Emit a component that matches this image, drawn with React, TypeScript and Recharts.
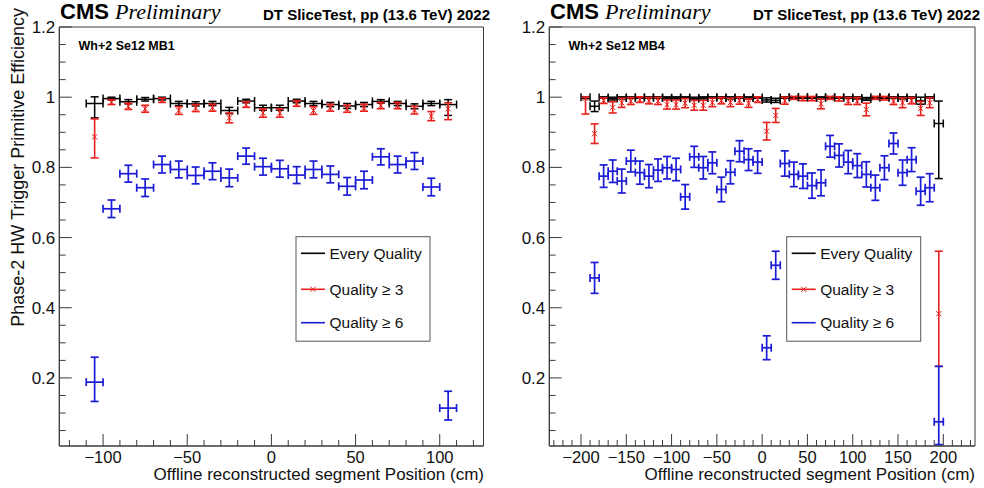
import React from 'react';
import { ScatterChart, Scatter, XAxis, YAxis, ErrorBar, ReferenceArea } from 'recharts';

// ---- data: efficiency per 10 cm bin ----

const BIN_HALF_WIDTH = 5;

// MB1 (left)
const MB1_BINS = [-105, -95, -85, -75, -65, -55, -45, -35, -25, -15, -5, 5, 15, 25, 35, 45, 55, 65, 75, 85, 95, 105];
const MB1_ALL = [0.982, 0.996, 0.987, 0.994, 0.996, 0.982, 0.981, 0.982, 0.962, 0.989, 0.97, 0.97, 0.989, 0.982, 0.979, 0.975, 0.979, 0.988, 0.982, 0.974, 0.982, 0.979];
const MB1_ALL_ERR: (number | [number, number])[] = [[0.041, 0.019], 0.004, 0.006, 0.005, 0.004, 0.006, 0.006, 0.006, 0.009, 0.005, 0.007, 0.007, 0.005, 0.006, 0.006, 0.007, 0.006, 0.005, 0.006, 0.007, 0.006, [0.031, 0.014]];
const MB1_Q3 = [0.887, 0.986, 0.974, 0.967, 0.991, 0.962, 0.969, 0.97, 0.941, 0.979, 0.955, 0.955, 0.982, 0.962, 0.97, 0.967, 0.97, 0.976, 0.976, 0.963, 0.946, 0.967];
const MB1_Q3_ERR: (number | [number, number])[] = [[0.06, 0.051], 0.007, 0.009, 0.01, 0.006, 0.011, 0.01, 0.01, 0.014, 0.008, 0.012, 0.012, 0.008, 0.011, 0.01, 0.01, 0.01, 0.009, 0.009, 0.011, 0.013, [0.031, 0.017]];
const MB1_Q6 = [0.188, 0.682, 0.782, 0.742, 0.808, 0.794, 0.777, 0.789, 0.77, 0.832, 0.802, 0.796, 0.778, 0.794, 0.78, 0.746, 0.764, 0.83, 0.808, 0.818, 0.744, 0.114];
const MB1_Q6_ERR: (number | [number, number])[] = [[0.055, 0.071], 0.025, 0.024, 0.025, 0.024, 0.024, 0.024, 0.024, 0.025, 0.023, 0.024, 0.024, 0.024, 0.024, 0.024, 0.025, 0.025, 0.023, 0.024, 0.024, 0.025, [0.034, 0.048]];

// MB4 (right)
const MB4_BINS = [-195, -185, -175, -165, -155, -145, -135, -125, -115, -105, -95, -85, -75, -65, -55, -45, -35, -25, -15, -5, 5, 15, 25, 35, 45, 55, 65, 75, 85, 95, 105, 115, 125, 135, 145, 155, 165, 175, 185, 195];
const MB4_ALL = [1.0, 0.974, 0.999, 0.996, 0.998, 0.999, 0.999, 0.999, 0.999, 0.998, 0.998, 0.999, 0.996, 0.998, 0.999, 0.999, 0.998, 0.999, 0.998, 0.999, 0.992, 0.991, 0.999, 1.0, 1.0, 0.999, 0.998, 1.0, 0.999, 0.999, 0.998, 0.995, 1.0, 0.999, 0.999, 0.998, 0.999, 0.99, 0.999, 0.925];
const MB4_ALL_ERR: (number | [number, number])[] = [[0.004, 0], 0.015, 0.002, 0.004, 0.003, 0.002, 0.002, 0.002, 0.002, 0.003, 0.003, 0.002, 0.004, 0.003, 0.002, 0.002, 0.003, 0.002, 0.003, 0.002, 0.006, 0.006, 0.002, [0.003, 0], [0.003, 0], 0.002, 0.003, [0.003, 0], 0.002, 0.002, 0.003, 0.004, [0.003, 0], 0.002, 0.002, 0.003, 0.002, 0.01, 0.002, [0.157, 0.064]];
const MB4_Q3 = [0.997, 0.896, 0.99, 0.971, 0.984, 0.989, 0.993, 0.99, 0.989, 0.979, 0.979, 0.983, 0.977, 0.977, 0.985, 0.99, 0.985, 0.99, 0.983, 0.993, 0.903, 0.948, 0.99, 0.998, 0.996, 0.996, 0.981, 0.998, 0.995, 0.989, 0.989, 0.965, 0.998, 0.997, 0.989, 0.984, 0.99, 0.968, 0.984, 0.383];
const MB4_Q3_ERR: (number | [number, number])[] = [[0.045, 0.003], 0.028, 0.008, 0.016, 0.013, 0.01, 0.008, 0.009, 0.01, 0.013, 0.013, 0.013, 0.014, 0.014, 0.012, 0.009, 0.012, 0.01, 0.012, 0.008, 0.025, 0.02, 0.01, 0.004, 0.006, 0.006, 0.014, 0.004, 0.006, 0.01, 0.01, 0.018, 0.004, 0.005, 0.01, 0.014, 0.009, 0.02, 0.014, [0.15, 0.178]];
const MB4_Q6: (number | null)[] = [null, 0.485, 0.775, 0.789, 0.761, 0.818, 0.785, 0.775, 0.792, 0.799, 0.794, 0.716, 0.83, 0.799, 0.813, 0.737, 0.786, 0.846, 0.822, 0.815, 0.286, 0.521, 0.811, 0.78, 0.775, 0.748, 0.756, 0.86, 0.834, 0.815, 0.805, 0.78, 0.742, 0.799, 0.868, 0.785, 0.822, 0.732, 0.742, 0.075];
const MB4_Q6_ERR: (number | [number, number])[] = [0, 0.044, 0.032, 0.032, 0.034, 0.031, 0.033, 0.033, 0.032, 0.032, 0.032, 0.035, 0.03, 0.032, 0.031, 0.035, 0.033, 0.03, 0.031, 0.032, 0.034, 0.04, 0.036, 0.035, 0.035, 0.036, 0.037, 0.031, 0.033, 0.033, 0.034, 0.036, 0.036, 0.034, 0.03, 0.036, 0.034, 0.04, 0.04, [0.065, 0.158]];

// axes
const MB1_X_TICKS = [-120, -110, -100, -90, -80, -70, -60, -50, -40, -30, -20, -10, 0, 10, 20, 30, 40, 50, 60, 70, 80, 90, 100, 110, 120];
const MB4_X_TICKS = [-230, -220, -210, -200, -190, -180, -170, -160, -150, -140, -130, -120, -110, -100, -90, -80, -70, -60, -50, -40, -30, -20, -10, 0, 10, 20, 30, 40, 50, 60, 70, 80, 90, 100, 110, 120, 130, 140, 150, 160, 170, 180, 190, 200, 210, 220, 230];
const Y_TICKS = [0.05, 0.1, 0.15, 0.2, 0.25, 0.3, 0.35, 0.4, 0.45, 0.5, 0.55, 0.6, 0.65, 0.7, 0.75, 0.8, 0.85, 0.9, 0.95, 1, 1.05, 1.1, 1.15, 1.2];
const Y_DOMAIN: [number, number] = [0.006, 1.2];

const LEGEND_LABELS = ['Every Quality', 'Quality \u2265 3', 'Quality \u2265 6'];

const BLACK = '#000000';
const RED = '#e8201c';
const BLUE = '#1c1cd6';
const AXIS = '#3a3a3a';
const SANS = '"Liberation Sans", Arial, Helvetica, sans-serif';
const SERIF = '"Liberation Serif", "Times New Roman", serif';

type Err = number | [number, number];

function buildPoints(bins: number[], vals: (number | null)[], errs: Err[]) {
  const out: { x: number; y: number; ex: number; ey: Err }[] = [];
  bins.forEach((b, i) => {
    const v = vals[i];
    if (v == null) return;
    out.push({ x: b, y: v, ex: BIN_HALF_WIDTH, ey: errs[i] });
  });
  return out;
}

const NoMarker = () => <g />;

const CrossMarker = (props: any) => {
  const { cx, cy } = props;
  const s = 2.6;
  return (
    <g stroke={RED} strokeWidth={1}>
      <line x1={cx - s} y1={cy - s} x2={cx + s} y2={cy + s} />
      <line x1={cx - s} y1={cy + s} x2={cx + s} y2={cy - s} />
    </g>
  );
};

const fmtX = (v: number) => (v < 0 ? '\u2212' + Math.abs(v) : String(v));

const XTick = (props: any) => {
  const { x, y, payload } = props;
  const v = payload.value as number;
  const major = v % 50 === 0;
  return (
    <g>
      <line x1={x} x2={x} y1={y} y2={y - (major ? 12 : 6)} stroke={AXIS} strokeWidth={1} />
      {major && (
        <text x={x} y={y + 16.5} textAnchor="middle" fontSize={16.5} fontFamily={SANS} fill="#111">
          {fmtX(v)}
        </text>
      )}
    </g>
  );
};

const YTick = (props: any) => {
  const { x, y, payload } = props;
  const v = payload.value as number;
  const major = Math.abs(v * 5 - Math.round(v * 5)) < 1e-6;
  return (
    <g>
      <line x1={x} x2={x + (major ? 12.5 : 6.3)} y1={y} y2={y} stroke={AXIS} strokeWidth={1} />
      {major && (
        <text x={x - 4} y={y + 6} textAnchor="end" fontSize={17} fontFamily={SANS} fill="#111">
          {String(Math.round(v * 10) / 10)}
        </text>
      )}
    </g>
  );
};

interface PanelProps {
  left: number;
  marginRight: number;
  xDomain: [number, number];
  xTicks: number[];
  all: ReturnType<typeof buildPoints>;
  q3: ReturnType<typeof buildPoints>;
  q6: ReturnType<typeof buildPoints>;
}

function Panel({ left, marginRight, xDomain, xTicks, all, q3, q6 }: PanelProps) {
  return (
    <div style={{ position: 'absolute', left, top: 0 }}>
      <ScatterChart width={492} height={488} margin={{ top: 27, right: marginRight, bottom: 0, left: 0 }}>
        <XAxis
          type="number"
          dataKey="x"
          domain={xDomain}
          ticks={xTicks}
          interval={0}
          height={42}
          tickSize={0}
          tickMargin={0}
          tickLine={false}
          tick={XTick}
          axisLine={{ stroke: AXIS }}
          allowDataOverflow
        />
        <YAxis
          type="number"
          dataKey="y"
          domain={Y_DOMAIN}
          ticks={Y_TICKS}
          interval={0}
          width={59.3}
          tickSize={0}
          tickMargin={0}
          tickLine={false}
          tick={YTick}
          axisLine={{ stroke: AXIS }}
          allowDataOverflow
        />
        <ReferenceArea x1={xDomain[0]} x2={xDomain[1]} y1={Y_DOMAIN[0]} y2={Y_DOMAIN[1]} fill="none" stroke={AXIS} strokeWidth={1} />
        <Scatter data={all} shape={NoMarker} isAnimationActive={false}>
          <ErrorBar dataKey="ex" direction="x" width={4} stroke={BLACK} strokeWidth={1.5} isAnimationActive={false} />
          <ErrorBar dataKey="ey" direction="y" width={4} stroke={BLACK} strokeWidth={1.5} isAnimationActive={false} />
        </Scatter>
        <Scatter data={q3} shape={CrossMarker} isAnimationActive={false}>
          <ErrorBar dataKey="ey" direction="y" width={4} stroke={RED} strokeWidth={1.6} isAnimationActive={false} />
        </Scatter>
        <Scatter data={q6} shape={NoMarker} isAnimationActive={false}>
          <ErrorBar dataKey="ex" direction="x" width={4} stroke={BLUE} strokeWidth={1.7} isAnimationActive={false} />
          <ErrorBar dataKey="ey" direction="y" width={4} stroke={BLUE} strokeWidth={1.7} isAnimationActive={false} />
        </Scatter>
      </ScatterChart>
    </div>
  );
}

function Legend({ x, y }: { x: number; y: number }) {
  const rows = [16.6, 52.6, 86];
  const colors = [BLACK, RED, BLUE];
  return (
    <g>
      <rect x={x} y={y} width={134} height={104.5} fill="#fff" stroke="#555" strokeWidth={1} />
      {LEGEND_LABELS.map((lab, i) => (
        <g key={lab}>
          <line x1={x + 5} x2={x + 29} y1={y + rows[i]} y2={y + rows[i]} stroke={colors[i]} strokeWidth={1.6} />
          {i === 1 && <CrossMarker cx={x + 17} cy={y + rows[i]} />}
          <text x={x + 33.5} y={y + rows[i] + 5.5} fontSize={15.5} fontFamily={SANS} fill="#111">
            {lab}
          </text>
        </g>
      ))}
    </g>
  );
}

function Headers({ dx, frameRight, label }: { dx: number; frameRight: number; label: string }) {
  return (
    <g>
      <text x={dx + 60} y={19} fontSize={22} fontWeight="bold" fontFamily={SANS} fill="#000">CMS</text>
      <text x={dx + 115} y={19} fontSize={22} fontStyle="italic" fontFamily={SERIF} fill="#000">Preliminary</text>
      <text x={dx + 490} y={20} fontSize={15} fontWeight="bold" fontFamily={SANS} fill="#000" textAnchor="end">
        DT SliceTest, pp (13.6 TeV) 2022
      </text>
      <text x={dx + 78.5} y={50} fontSize={12.5} fontWeight="bold" fontFamily={SANS} fill="#000">{label}</text>
      <text x={frameRight} y={480} fontSize={17} fontFamily={SANS} fill="#111" textAnchor="end">
        Offline reconstructed segment Position (cm)
      </text>
    </g>
  );
}

export default function App() {
  const mb1All = buildPoints(MB1_BINS, MB1_ALL, MB1_ALL_ERR);
  const mb1Q3 = buildPoints(MB1_BINS, MB1_Q3, MB1_Q3_ERR);
  const mb1Q6 = buildPoints(MB1_BINS, MB1_Q6, MB1_Q6_ERR);
  const mb4All = buildPoints(MB4_BINS, MB4_ALL, MB4_ALL_ERR);
  const mb4Q3 = buildPoints(MB4_BINS, MB4_Q3, MB4_Q3_ERR);
  const mb4Q6 = buildPoints(MB4_BINS, MB4_Q6, MB4_Q6_ERR);

  return (
    <div style={{ position: 'absolute', left: 0, top: 0, width: 984, height: 488, background: '#fff', overflow: 'hidden' }}>
      <Panel left={0} marginRight={8.5} xDomain={[-126, 126]} xTicks={MB1_X_TICKS} all={mb1All} q3={mb1Q3} q6={mb1Q6} />
      <Panel left={490} marginRight={7} xDomain={[-235, 235]} xTicks={MB4_X_TICKS} all={mb4All} q3={mb4Q3} q6={mb4Q6} />
      <svg width={984} height={488} style={{ position: 'absolute', left: 0, top: 0, pointerEvents: 'none' }}>
        <Headers dx={0} frameRight={484} label="Wh+2 Se12 MB1" />
        <Headers dx={490} frameRight={975} label="Wh+2 Se12 MB4" />
        <text
          transform="translate(24, 8) rotate(-90)"
          fontSize={18}
          fontFamily={SANS}
          fill="#111"
          textAnchor="end"
        >
          Phase-2 HW Trigger Primitive Efficiency
        </text>
        <Legend x={296} y={236.7} />
        <Legend x={786.7} y={236.7} />
      </svg>
    </div>
  );
}
